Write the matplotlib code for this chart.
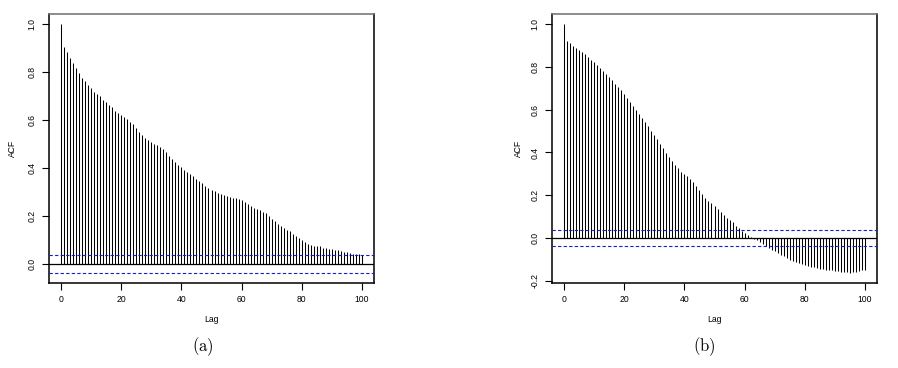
import numpy as np
import matplotlib
matplotlib.use("Agg")
import matplotlib.pyplot as plt

plt.rcParams.update({
    "font.family": ["Liberation Sans", "DejaVu Sans"],
    "mathtext.fontset": "cm",
})

# ---- data ------------------------------------------------------------------
lags = np.arange(101)

acf_a = [
    1.000, 0.904, 0.885, 0.860, 0.836, 0.815, 0.794, 0.776, 0.762, 0.746,
    0.732, 0.718, 0.710, 0.698, 0.682, 0.673, 0.662, 0.654, 0.637, 0.628,
    0.619, 0.612, 0.603, 0.593, 0.582, 0.568, 0.550, 0.537, 0.526, 0.517,
    0.510, 0.501, 0.496, 0.486, 0.479, 0.465, 0.451, 0.438, 0.426, 0.414,
    0.404, 0.393, 0.385, 0.375, 0.365, 0.353, 0.344, 0.338, 0.326, 0.318,
    0.310, 0.303, 0.296, 0.292, 0.286, 0.282, 0.278, 0.275, 0.273, 0.271,
    0.265, 0.260, 0.251, 0.243, 0.235, 0.229, 0.224, 0.218, 0.211, 0.198,
    0.188, 0.178, 0.168, 0.157, 0.150, 0.143, 0.136, 0.126, 0.115, 0.107,
    0.098, 0.090, 0.082, 0.078, 0.076, 0.076, 0.073, 0.068, 0.065, 0.063,
    0.062, 0.060, 0.057, 0.054, 0.051, 0.048, 0.046, 0.043, 0.042, 0.040,
    0.039,
]

acf_b = [
    1.000, 0.921, 0.910, 0.899, 0.888, 0.877, 0.868, 0.858, 0.846, 0.834,
    0.821, 0.808, 0.795, 0.781, 0.767, 0.752, 0.737, 0.722, 0.706, 0.690,
    0.673, 0.655, 0.637, 0.619, 0.600, 0.581, 0.562, 0.542, 0.522, 0.502,
    0.482, 0.461, 0.440, 0.419, 0.398, 0.380, 0.361, 0.343, 0.327, 0.311,
    0.299, 0.290, 0.278, 0.264, 0.244, 0.225, 0.207, 0.187, 0.174, 0.163,
    0.148, 0.135, 0.120, 0.109, 0.096, 0.085, 0.073, 0.057, 0.048, 0.034,
    0.023, 0.014, 0.005, -0.003, -0.011, -0.020, -0.028, -0.039, -0.048, -0.054,
    -0.062, -0.070, -0.078, -0.085, -0.093, -0.100, -0.106, -0.110, -0.115, -0.120,
    -0.124, -0.129, -0.134, -0.137, -0.140, -0.143, -0.146, -0.148, -0.150, -0.151,
    -0.153, -0.154, -0.156, -0.157, -0.160, -0.163, -0.159, -0.156, -0.153, -0.151,
    -0.148,
]

ci_level = 0.038            # white-noise band, +/- 1.96/sqrt(n)
x_ticks = [0, 20, 40, 60, 80, 100]
y_ticks_a = [0.0, 0.2, 0.4, 0.6, 0.8, 1.0]
y_ticks_b = [-0.2, 0.0, 0.2, 0.4, 0.6, 0.8, 1.0]
panel_tags = ["(a)", "(b)"]

W, H = 898, 368
FS = 6.2


def draw_acf(ax, acf, yticks, ylab_x):
    acf = np.asarray(acf)
    ax.vlines(lags, 0, acf, color="black", lw=0.75, zorder=2)
    ax.axhline(0, color="black", lw=0.9, zorder=3)
    for c in (ci_level, -ci_level):
        ax.axhline(c, color="#1a1ad0", lw=0.8, ls=(0, (3, 2)), zorder=4)

    # R style limits: data range padded by 4 %
    lo = min(acf.min(), -ci_level)
    hi = max(acf.max(), ci_level)
    pad = 0.04 * (hi - lo)
    ax.set_ylim(lo - pad, hi + pad)
    ax.set_xlim(-4, 104)

    ax.set_xticks(x_ticks)
    ax.set_xticklabels([str(t) for t in x_ticks])
    ax.set_yticks(yticks)
    ax.set_yticklabels([f"{t:.1f}" for t in yticks], rotation=90, va="center")
    ax.tick_params(labelsize=FS, length=5, width=0.8, pad=4, color="black")

    for s in ax.spines.values():
        s.set_linewidth(1.1)
        s.set_color("black")
    ax.spines["top"].set_color("#6e6e6e")

    ax.set_xlabel("Lag", fontsize=FS)
    ax.set_ylabel("ACF", fontsize=FS)
    ax.xaxis.set_label_coords(0.5, -0.134)
    ax.xaxis.label.set_va("center")
    ax.yaxis.set_label_coords(ylab_x, 0.5)
    ax.yaxis.label.set_va("center")


fig = plt.figure(figsize=(W / 100, H / 100), dpi=100)

# axes boxes in pixels: left, right, top, bottom
boxes = [(49, 374, 14, 283), (552, 877, 14, 283)]
ylab_px = [12, 518]
tag_x = [203, 704]

for i, (acf, yt) in enumerate([(acf_a, y_ticks_a), (acf_b, y_ticks_b)]):
    l, r, t, b = boxes[i]
    ax = fig.add_axes([l / W, 1 - b / H, (r - l) / W, (b - t) / H])
    draw_acf(ax, acf, yt, (ylab_px[i] - l) / (r - l))
    fig.text(tag_x[i] / W, 1 - 347 / H, r"$\mathrm{" + panel_tags[i] + "}$",
             ha="center", va="center", fontsize=12)

fig.savefig("out.png", dpi=100)
